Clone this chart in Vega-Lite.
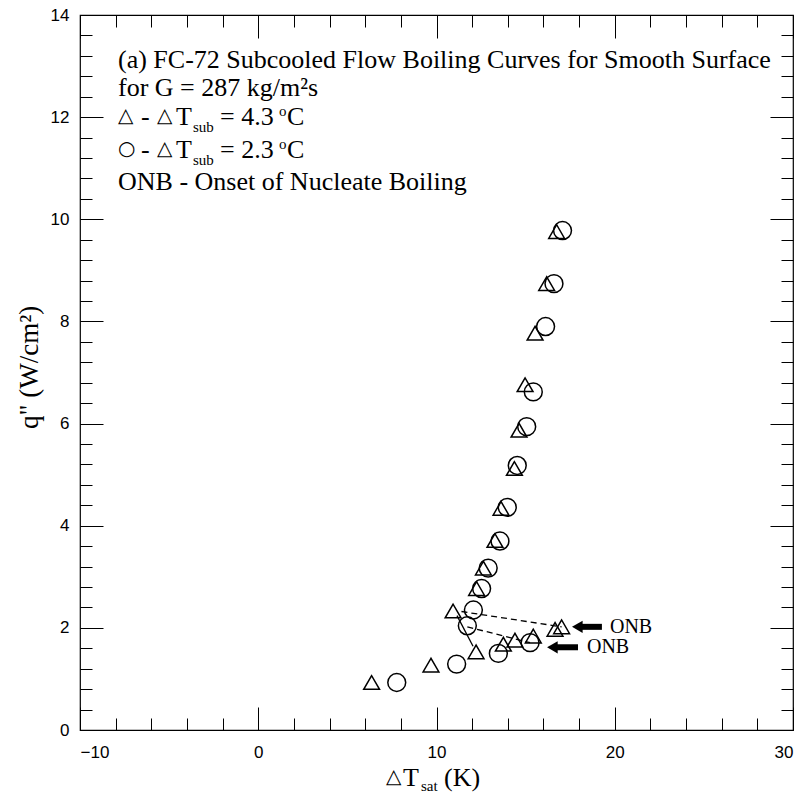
{
  "$schema": "https://vega.github.io/schema/vega-lite/v6.json",
  "width": 713,
  "height": 715,
  "autosize": "none",
  "padding": {"left": 80, "top": 15, "right": 16, "bottom": 68},
  "background": "white",
  "config": {
    "view": {"stroke": "black", "strokeWidth": 1.2},
    "axis": {"domain": false, "grid": false, "tickColor": "black", "tickWidth": 1, "labelColor": "black", "labelFont": "Liberation Sans", "labelFontSize": 17}
  },
  "datasets": {
    "tri": [
      {"dT": 6.36, "q": 0.93}, {"dT": 9.69, "q": 1.27}, {"dT": 12.22, "q": 1.53}, {"dT": 13.75, "q": 1.68},
      {"dT": 14.4, "q": 1.76}, {"dT": 15.43, "q": 1.84}, {"dT": 16.65, "q": 1.97}, {"dT": 17.02, "q": 2.02},
      {"dT": 10.93, "q": 2.33}, {"dT": 12.25, "q": 2.77}, {"dT": 12.63, "q": 3.17}, {"dT": 13.28, "q": 3.71},
      {"dT": 13.62, "q": 4.34}, {"dT": 14.37, "q": 5.12}, {"dT": 14.63, "q": 5.87}, {"dT": 14.97, "q": 6.76},
      {"dT": 15.53, "q": 7.77}, {"dT": 16.18, "q": 8.74}, {"dT": 16.74, "q": 9.76}
    ],
    "cir": [
      {"dT": 7.77, "q": 0.93}, {"dT": 11.13, "q": 1.29}, {"dT": 13.47, "q": 1.5}, {"dT": 15.25, "q": 1.71},
      {"dT": 11.73, "q": 2.04}, {"dT": 12.07, "q": 2.35}, {"dT": 12.53, "q": 2.77}, {"dT": 12.9, "q": 3.17},
      {"dT": 13.56, "q": 3.7}, {"dT": 13.97, "q": 4.36}, {"dT": 14.53, "q": 5.18}, {"dT": 15.06, "q": 5.94},
      {"dT": 15.43, "q": 6.62}, {"dT": 16.12, "q": 7.9}, {"dT": 16.59, "q": 8.74}, {"dT": 17.07, "q": 9.78}
    ],
    "dash": [
      {"seg": "A", "dT": 17.02, "q": 2.02}, {"seg": "A", "dT": 11.4, "q": 2.32},
      {"seg": "B", "dT": 11.73, "q": 2.02}, {"seg": "B", "dT": 15.25, "q": 1.71}
    ],
    "solid": [
      {"x1": 11.15, "q1": 2.24, "x2": 12.05, "q2": 1.64}
    ],
    "arrows": [
      {"tip": 17.9, "x1": 18.0, "x2": 19.28, "q": 2.02},
      {"tip": 16.5, "x1": 16.6, "x2": 17.94, "q": 1.62}
    ],
    "onb": [
      {"dT": 19.73, "q": 2.02, "t": "ONB"},
      {"dT": 18.44, "q": 1.62, "t": "ONB"}
    ],
    "big": [
      {"dT": -7.868, "q": 13.12, "t": "(a) FC-72 Subcooled Flow Boiling Curves for Smooth Surface"},
      {"dT": -7.868, "q": 12.57, "t": "for G = 287 kg/m²s"},
      {"dT": -6.578, "q": 12.0, "t": "-"},
      {"dT": -4.614, "q": 12.0, "t": "T"},
      {"dT": -2.146, "q": 12.0, "t": "= 4.3"},
      {"dT": 1.613, "q": 12.0, "t": "C"},
      {"dT": -6.578, "q": 11.357, "t": "-"},
      {"dT": -4.614, "q": 11.357, "t": "T"},
      {"dT": -2.146, "q": 11.357, "t": "= 2.3"},
      {"dT": 1.613, "q": 11.357, "t": "C"},
      {"dT": -7.868, "q": 10.73, "t": "ONB - Onset of Nucleate Boiling"},
      {"dT": 8.12, "q": -0.94, "t": "T"},
      {"dT": 10.42, "q": -0.94, "t": "(K)"}
    ],
    "sym": [
      {"dT": -7.868, "q": 12.02, "t": "△"},
      {"dT": -5.68, "q": 12.02, "t": "△"},
      {"dT": -7.868, "q": 11.377, "t": "○"},
      {"dT": -5.68, "q": 11.377, "t": "△"},
      {"dT": 7.167, "q": -0.92, "t": "△"}
    ],
    "small": [
      {"dT": -3.66, "q": 11.8, "t": "sub"},
      {"dT": 1.164, "q": 12.12, "t": "o"},
      {"dT": -3.66, "q": 11.16, "t": "sub"},
      {"dT": 1.164, "q": 11.47, "t": "o"},
      {"dT": 9.13, "q": -1.09, "t": "sat"}
    ],
    "ytitle": [
      {"dT": -12.805, "q": 7.1, "t": "q\" (W/cm²)"}
    ]
  },
  "resolve": {"axis": {"x": "independent", "y": "independent"}},
  "layer": [
    {
      "data": {"name": "tri"},
      "mark": {"type": "point", "shape": "triangle-up", "filled": false, "stroke": "black", "strokeWidth": 1.5, "size": 250, "opacity": 1},
      "encoding": {
        "x": {"field": "dT", "type": "quantitative", "scale": {"domain": [-10, 30], "nice": false, "zero": false},
              "axis": {"orient": "bottom", "values": [-10, 0, 10, 20, 30], "ticks": false, "labelPadding": 14, "title": null}},
        "y": {"field": "q", "type": "quantitative", "scale": {"domain": [0, 14], "nice": false, "zero": false},
              "axis": {"orient": "left", "values": [0, 2, 4, 6, 8, 10, 12, 14], "ticks": false, "labelPadding": 11, "title": null}}
      }
    },
    {
      "data": {"name": "cir"},
      "mark": {"type": "point", "shape": "circle", "filled": false, "stroke": "black", "strokeWidth": 1.5, "size": 320, "opacity": 1},
      "encoding": {
        "x": {"field": "dT", "type": "quantitative", "scale": {"domain": [-10, 30], "nice": false, "zero": false},
              "axis": {"orient": "bottom", "values": [-10, 0, 10, 20, 30], "labels": false, "tickSize": -23, "title": null}},
        "y": {"field": "q", "type": "quantitative", "scale": {"domain": [0, 14], "nice": false, "zero": false},
              "axis": {"orient": "left", "values": [0, 2, 4, 6, 8, 10, 12, 14], "labels": false, "tickSize": -23, "title": null}}
      }
    },
    {
      "data": {"name": "dash"},
      "mark": {"type": "line", "color": "black", "strokeWidth": 1.3, "strokeDash": [6, 4]},
      "encoding": {
        "x": {"field": "dT", "type": "quantitative", "scale": {"domain": [-10, 30], "nice": false, "zero": false},
              "axis": {"orient": "bottom", "values": [-8, -6, -4, -2, 2, 4, 6, 8, 12, 14, 16, 18, 22, 24, 26, 28], "labels": false, "tickSize": -12, "title": null}},
        "y": {"field": "q", "type": "quantitative", "scale": {"domain": [0, 14], "nice": false, "zero": false},
              "axis": {"orient": "left", "values": [0.4, 0.8, 1.2, 1.6, 2.4, 2.8, 3.2, 3.6, 4.4, 4.8, 5.2, 5.6, 6.4, 6.8, 7.2, 7.6, 8.4, 8.8, 9.2, 9.6, 10.4, 10.8, 11.2, 11.6, 12.4, 12.8, 13.2, 13.6], "labels": false, "tickSize": -12, "title": null}},
        "detail": {"field": "seg"}
      }
    },
    {
      "data": {"name": "solid"},
      "mark": {"type": "rule", "color": "black", "strokeWidth": 1.3},
      "encoding": {
        "x": {"field": "x1", "type": "quantitative", "scale": {"domain": [-10, 30], "nice": false, "zero": false}, "axis": null},
        "x2": {"field": "x2"},
        "y": {"field": "q1", "type": "quantitative", "scale": {"domain": [0, 14], "nice": false, "zero": false}, "axis": null},
        "y2": {"field": "q2"}
      }
    },
    {
      "data": {"name": "arrows"},
      "mark": {"type": "rule", "color": "black", "strokeWidth": 6},
      "encoding": {
        "x": {"field": "x1", "type": "quantitative", "scale": {"domain": [-10, 30], "nice": false, "zero": false},
              "axis": {"orient": "top", "values": [-10, 0, 10, 20, 30], "labels": false, "tickSize": -23, "title": null}},
        "x2": {"field": "x2"},
        "y": {"field": "q", "type": "quantitative", "scale": {"domain": [0, 14], "nice": false, "zero": false},
              "axis": {"orient": "right", "values": [0, 2, 4, 6, 8, 10, 12, 14], "labels": false, "tickSize": -23, "title": null}}
      }
    },
    {
      "data": {"name": "arrows"},
      "mark": {"type": "point", "shape": "triangle-left", "filled": true, "color": "black", "size": 150, "opacity": 1},
      "encoding": {
        "x": {"field": "tip", "type": "quantitative", "scale": {"domain": [-10, 30], "nice": false, "zero": false},
              "axis": {"orient": "top", "values": [-8, -6, -4, -2, 2, 4, 6, 8, 12, 14, 16, 18, 22, 24, 26, 28], "labels": false, "tickSize": -12, "title": null}},
        "y": {"field": "q", "type": "quantitative", "scale": {"domain": [0, 14], "nice": false, "zero": false},
              "axis": {"orient": "right", "values": [0.4, 0.8, 1.2, 1.6, 2.4, 2.8, 3.2, 3.6, 4.4, 4.8, 5.2, 5.6, 6.4, 6.8, 7.2, 7.6, 8.4, 8.8, 9.2, 9.6, 10.4, 10.8, 11.2, 11.6, 12.4, 12.8, 13.2, 13.6], "labels": false, "tickSize": -12, "title": null}}
      }
    },
    {
      "data": {"name": "onb"},
      "mark": {"type": "text", "font": "Liberation Serif", "fontSize": 20, "align": "left", "baseline": "middle", "color": "black"},
      "encoding": {
        "x": {"field": "dT", "type": "quantitative", "scale": {"domain": [-10, 30], "nice": false, "zero": false}, "axis": null},
        "y": {"field": "q", "type": "quantitative", "scale": {"domain": [0, 14], "nice": false, "zero": false}, "axis": null},
        "text": {"field": "t"}
      }
    },
    {
      "data": {"name": "big"},
      "mark": {"type": "text", "font": "Liberation Serif", "fontSize": 26, "align": "left", "baseline": "middle", "color": "black"},
      "encoding": {
        "x": {"field": "dT", "type": "quantitative", "scale": {"domain": [-10, 30], "nice": false, "zero": false}, "axis": null},
        "y": {"field": "q", "type": "quantitative", "scale": {"domain": [0, 14], "nice": false, "zero": false}, "axis": null},
        "text": {"field": "t"}
      }
    },
    {
      "data": {"name": "sym"},
      "mark": {"type": "text", "font": "DejaVu Sans", "fontSize": 20, "align": "left", "baseline": "middle", "color": "black"},
      "encoding": {
        "x": {"field": "dT", "type": "quantitative", "scale": {"domain": [-10, 30], "nice": false, "zero": false}, "axis": null},
        "y": {"field": "q", "type": "quantitative", "scale": {"domain": [0, 14], "nice": false, "zero": false}, "axis": null},
        "text": {"field": "t"}
      }
    },
    {
      "data": {"name": "small"},
      "mark": {"type": "text", "font": "Liberation Serif", "fontSize": 15, "align": "left", "baseline": "middle", "color": "black"},
      "encoding": {
        "x": {"field": "dT", "type": "quantitative", "scale": {"domain": [-10, 30], "nice": false, "zero": false}, "axis": null},
        "y": {"field": "q", "type": "quantitative", "scale": {"domain": [0, 14], "nice": false, "zero": false}, "axis": null},
        "text": {"field": "t"}
      }
    },
    {
      "data": {"name": "ytitle"},
      "mark": {"type": "text", "font": "Liberation Serif", "fontSize": 27, "align": "center", "baseline": "middle", "angle": 270, "color": "black"},
      "encoding": {
        "x": {"field": "dT", "type": "quantitative", "scale": {"domain": [-10, 30], "nice": false, "zero": false}, "axis": null},
        "y": {"field": "q", "type": "quantitative", "scale": {"domain": [0, 14], "nice": false, "zero": false}, "axis": null},
        "text": {"field": "t"}
      }
    }
  ]
}
